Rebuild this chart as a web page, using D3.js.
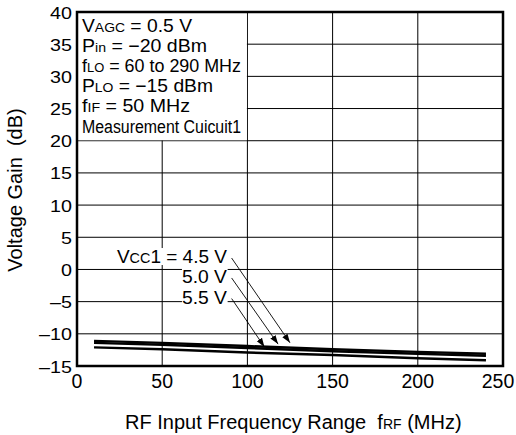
<html>
<head>
<meta charset="utf-8">
<script src="https://d3js.org/d3.v7.min.js"></script>
<style>
body { margin: 0; background: #fff; }
svg { font-family: "Liberation Sans", Arial, sans-serif; }
text { white-space: pre; }
</style>
</head>
<body>
<svg id="chart" width="516" height="435"></svg>
<script>
// values
var freq   = [10, 50, 100, 150, 200, 240];
var gain45 = [-11.1, -11.4, -11.9, -12.4, -12.8, -13.1];
var gain50 = [-11.4, -11.7, -12.2, -12.7, -13.1, -13.4];
var gain55 = [-12.1, -12.4, -12.9, -13.3, -13.8, -14.1];
var xTicks = [0, 50, 100, 150, 200, 250];
var yTicks = [-15, -10, -5, 0, 5, 10, 15, 20, 25, 30, 35, 40];
var vccLabels = ["4.5 V", "5.0 V", "5.5 V"];
var vccLabelY = [1.0, -2.1, -5.3];
var arrowTipX = [125, 118, 110];
var arrowTipY = [-11.4, -11.6, -12.05];
var conditions = [
  [["V", 0], ["AGC", 1], [" = 0.5 V", 0]],
  [["P", 0], ["in", 1], [" = \u221220 dBm", 0]],
  [["f", 0], ["LO", 1], [" = 60 to 290 MHz", 0]],
  [["P", 0], ["LO", 1], [" = \u221215 dBm", 0]],
  [["f", 0], ["IF", 1], [" = 50 MHz", 0]],
  [["Measurement Cuicuit1", 0]]
];
// rendered widths of the condition lines (text is a bit wide in the original)
var condWidths = [110, 125, 159, 131, 108, 159];
var vccWidths = [110, 45, 45];

var svg = d3.select("#chart"),
    margin = {top: 12, left: 77, bottom: 69, right: 13},
    width = +svg.attr("width") - margin.left - margin.right,
    height = +svg.attr("height") - margin.top - margin.bottom;

var x = d3.scaleLinear().domain([0, 250]).range([margin.left, margin.left + width]);
var y = d3.scaleLinear().domain([-15, 40]).range([margin.top + height, margin.top]);
var fmt = d => d < 0 ? "\u2013" + Math.abs(d) : "" + d;

// grid
var grid = svg.append("g").attr("stroke", "#000").attr("stroke-width", 1);
grid.selectAll(".vg").data(xTicks.slice(1, -1)).enter().append("line")
  .attr("x1", d => x(d)).attr("x2", d => x(d))
  .attr("y1", y(-15)).attr("y2", y(40));
grid.selectAll(".hg").data(yTicks.slice(1, -1)).enter().append("line")
  .attr("x1", x(0)).attr("x2", x(250))
  .attr("y1", d => y(d)).attr("y2", d => y(d));

// conditions box covers the grid
svg.append("rect")
  .attr("x", x(0)).attr("y", y(40))
  .attr("width", x(100) - x(0) - 0.5)
  .attr("height", y(20) - y(40) - 0.5)
  .attr("fill", "#fff");

var cond = svg.append("g").attr("font-size", 18);
conditions.forEach(function(parts, i) {
  var t = cond.append("text").attr("x", x(0) + 5).attr("y", y(40) + 19.5 + i * 20.2)
    .attr("textLength", condWidths[i]).attr("lengthAdjust", "spacingAndGlyphs");
  parts.forEach(function(p) {
    t.append("tspan").attr("font-size", p[1] ? 13 : 18).text(p[0]);
  });
});

// axes labels
svg.append("g").selectAll("text").data(yTicks).enter().append("text")
  .attr("transform", d => `translate(${x(0) - 5},${y(d) + 6.5}) scale(1.16,1)`)
  .attr("text-anchor", "end").attr("font-size", 17)
  .text(fmt);
svg.append("g").selectAll("text").data(xTicks).enter().append("text")
  .attr("x", d => Math.min(x(d), 498)).attr("y", y(-15) + 22)
  .attr("text-anchor", "middle").attr("font-size", 19.5)
  .text(fmt);

svg.append("text")
  .attr("transform", `translate(22,190) rotate(-90)`)
  .attr("text-anchor", "middle").attr("font-size", 20)
  .text("Voltage Gain  (dB)");

var xt = svg.append("text")
  .attr("x", 125).attr("y", 429)
  .attr("font-size", 20);
xt.append("tspan").text("RF Input Frequency Range  f");
xt.append("tspan").attr("font-size", 14).text("RF");
xt.append("tspan").text(" (MHz)");

// curves
var line = d3.line().x((d, i) => x(freq[i])).y(d => y(d));
[gain55, gain50, gain45].forEach(function(s) {
  svg.append("path").datum(s)
    .attr("d", line)
    .attr("fill", "none").attr("stroke", "#000")
    .attr("stroke-width", 2.4);
});

// Vcc labels with arrows
svg.append("defs").append("marker")
  .attr("id", "arr").attr("viewBox", "0 0 10 10")
  .attr("refX", 10).attr("refY", 5)
  .attr("markerWidth", 9).attr("markerHeight", 9)
  .attr("markerUnits", "userSpaceOnUse")
  .attr("orient", "auto")
  .append("path").attr("d", "M0,1.5L10,5L0,8.5Z").attr("fill", "#000");

var ann = svg.append("g");
vccLabels.forEach(function(lab, i) {
  var g = ann.append("g");
  var bg = g.append("rect").attr("fill", "#fff");
  var t = g.append("text").attr("x", x(88)).attr("y", y(vccLabelY[i]))
    .attr("text-anchor", "end").attr("font-size", 18.5)
    .attr("textLength", vccWidths[i]).attr("lengthAdjust", "spacingAndGlyphs");
  if (i == 0) {
    t.append("tspan").text("V");
    t.append("tspan").attr("font-size", 14).text("CC");
    t.append("tspan").text("1 = " + lab);
  } else {
    t.text(lab);
  }
  var b = t.node().getBBox();
  bg.attr("x", b.x).attr("y", b.y + 2).attr("width", b.width).attr("height", b.height - 4);
  g.append("line")
    .attr("x1", b.x + b.width + 4).attr("y1", y(vccLabelY[i]) - 5)
    .attr("x2", x(arrowTipX[i])).attr("y2", y(arrowTipY[i]))
    .attr("stroke", "#000").attr("stroke-width", 0.9)
    .attr("marker-end", "url(#arr)");
});

// frame
svg.append("rect")
  .attr("x", x(0)).attr("y", y(40))
  .attr("width", x(250) - x(0)).attr("height", y(-15) - y(40))
  .attr("fill", "none").attr("stroke", "#000").attr("stroke-width", 2.5);
</script>
</body>
</html>
